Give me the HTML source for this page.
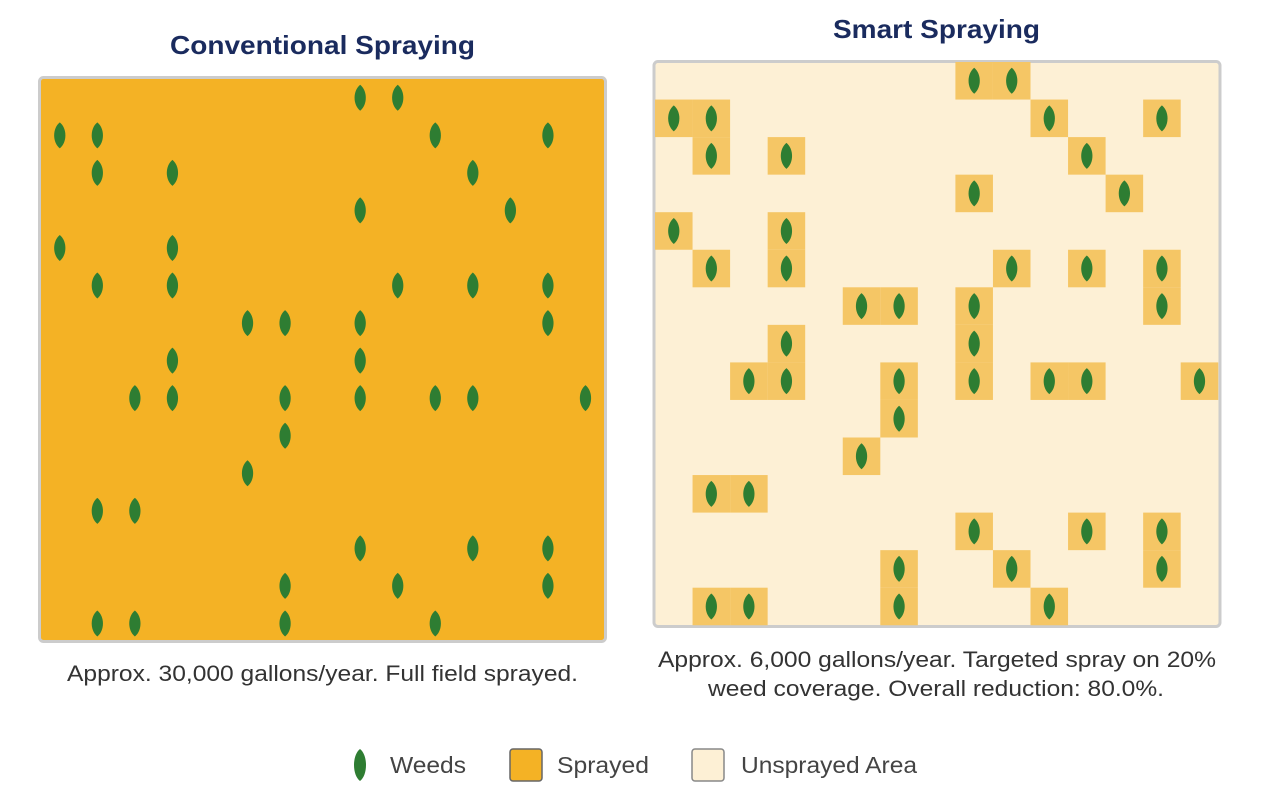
<!DOCTYPE html>
<html><head><meta charset="utf-8"><style>
body{margin:0;background:#fff;width:1264px;height:801px;overflow:hidden;font-family:"Liberation Sans",Arial,sans-serif}
</style></head><body>
<svg id="s" width="1264" height="801" xmlns="http://www.w3.org/2000/svg" style="position:absolute;left:0;top:0">
<text x="170" y="54" textLength="305" lengthAdjust="spacingAndGlyphs" font-size="26" font-weight="bold" fill="#1a2b5e" font-family="Liberation Sans">Conventional Spraying</text>
<text x="833" y="38" textLength="207" lengthAdjust="spacingAndGlyphs" font-size="26" font-weight="bold" fill="#1a2b5e" font-family="Liberation Sans">Smart Spraying</text>
<rect x="39.5" y="77.5" width="566" height="564" rx="4" fill="#f4b225" stroke="#cccccc" stroke-width="3"/>
<rect x="654" y="61.5" width="566" height="565" rx="4" fill="#fdf0d5" stroke="#cccccc" stroke-width="3"/>
<g id="L"></g><g id="R"></g>
<text x="67" y="681" textLength="511" lengthAdjust="spacingAndGlyphs" font-size="22" fill="#333" font-family="Liberation Sans">Approx. 30,000 gallons/year. Full field sprayed.</text>
<text x="658" y="667" textLength="558" lengthAdjust="spacingAndGlyphs" font-size="22" fill="#333" font-family="Liberation Sans">Approx. 6,000 gallons/year. Targeted spray on 20%</text>
<text x="708" y="696" textLength="456" lengthAdjust="spacingAndGlyphs" font-size="22" fill="#333" font-family="Liberation Sans">weed coverage. Overall reduction: 80.0%.</text>
<path d="M360 749 C368 755 368 775 360 781 C352 775 352 755 360 749Z" fill="#2e7d32"/>
<text x="390" y="773" textLength="76" lengthAdjust="spacingAndGlyphs" font-size="23" fill="#444" font-family="Liberation Sans">Weeds</text>
<rect x="510" y="749" width="32" height="32" rx="3" fill="#f4b225" stroke="#666" stroke-width="1.5"/>
<text x="557" y="773" textLength="92" lengthAdjust="spacingAndGlyphs" font-size="23" fill="#444" font-family="Liberation Sans">Sprayed</text>
<rect x="692" y="749" width="32" height="32" rx="3" fill="#fdf0d5" stroke="#888" stroke-width="1.5"/>
<text x="741" y="773" textLength="176" lengthAdjust="spacingAndGlyphs" font-size="23" fill="#444" font-family="Liberation Sans">Unsprayed Area</text>
</svg>
<script>
var W={0:[8,9],1:[0,1,10,13],2:[1,3,11],3:[8,12],4:[0,3],5:[1,3,9,11,13],6:[5,6,8,13],7:[3,8],8:[2,3,6,8,10,11,14],9:[6],10:[5],11:[1,2],12:[8,11,13],13:[6,9,13],14:[1,2,6,10]};
var ns="http://www.w3.org/2000/svg",L=document.getElementById('L'),R=document.getElementById('R'),c=37.55;
function leaf(g,x,y){var p=document.createElementNS(ns,'path');p.setAttribute('d','M'+x+' '+(y-13)+' C'+(x+7.5)+' '+(y-7)+' '+(x+7.5)+' '+(y+7)+' '+x+' '+(y+13)+' C'+(x-7.5)+' '+(y+7)+' '+(x-7.5)+' '+(y-7)+' '+x+' '+(y-13)+'Z');p.setAttribute('fill','#2e7d32');g.appendChild(p);}
for(var r in W){W[r].forEach(function(k){
var lx=41+k*c,ly=79+r*c;leaf(L,lx+c/2,ly+c/2);
var rx=655+k*c,ry=62+r*c;var q=document.createElementNS(ns,'rect');q.setAttribute('x',rx);q.setAttribute('y',ry);q.setAttribute('width',c);q.setAttribute('height',c);q.setAttribute('fill','#f5c665');R.appendChild(q);
});}
for(var r in W){W[r].forEach(function(k){leaf(R,655+k*c+c/2,62+r*c+c/2);});}
</script>
</body></html>
